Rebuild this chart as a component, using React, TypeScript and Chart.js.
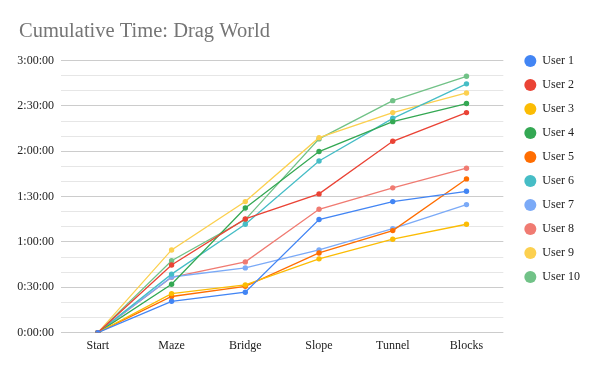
import React, { useEffect, useRef } from 'react';
import { Chart, registerables } from 'chart.js';

Chart.register(...registerables);

// Categories (x axis)
const categories = ['Start', 'Maze', 'Bridge', 'Slope', 'Tunnel', 'Blocks'];

// Series names
const seriesNames = ['User 1', 'User 2', 'User 3', 'User 4', 'User 5', 'User 6', 'User 7', 'User 8', 'User 9', 'User 10'];

// Cumulative time values, in minutes
const user1 = [0, 20.7, 26.7, 74.8, 86.7, 93.5];
const user2 = [0, 44.7, 75.2, 91.8, 126.6, 145.6];
const user3 = [0, 25.8, 31.6, 48.8, 61.8, 71.7];
const user4 = [0, 32.0, 82.5, 119.8, 139.6, 151.6];
const user5 = [0, 23.9, 30.6, 52.7, 67.5, 101.7];
const user6 = [0, 38.7, 71.7, 113.6, 141.8, 164.6];
const user7 = [0, 36.8, 42.8, 54.7, 68.8, 84.7];
const user8 = [0, 36.6, 46.8, 81.6, 95.8, 108.8];
const user9 = [0, 54.7, 86.7, 129.0, 145.6, 158.6];
const user10 = [0, 47.6, 74.8, 128.2, 153.5, 169.6];

const seriesValues = [user1, user2, user3, user4, user5, user6, user7, user8, user9, user10];

const seriesColors = ['#4285f4', '#ea4335', '#fbbc04', '#34a853', '#ff6d01', '#46bdc6', '#7baaf7', '#f07b72', '#fcd04f', '#71c287'];

// Y axis: 0:00:00 .. 3:00:00, grid every 10 min, labels every 30 min
const yMinMinutes = 0;
const yMaxMinutes = 180;
const yGridStepMinutes = 10;
const yLabelStepMinutes = 30;

const chartTitle = 'Cumulative Time: Drag World';

const FONT = "'Liberation Serif', 'Times New Roman', serif";

function formatMinutes(v: number): string {
  const h = Math.floor(v / 60);
  const m = Math.round(v % 60);
  return `${h}:${String(m).padStart(2, '0')}:00`;
}

const boxShift = {
  id: 'boxShift',
  afterLayout(chart: any) {
    const l = chart.legend;
    if (l) {
      l.left += 9;
      l.right += 9;
      l.top += 43;
      l.bottom += 43;
    }
    const t = chart.titleBlock;
    if (t) {
      t.left += 2;
      t.right += 2;
    }
  },
};

export default function App() {
  const canvasRef = useRef<HTMLCanvasElement | null>(null);

  useEffect(() => {
    if (!canvasRef.current) return;
    const chart = new Chart(canvasRef.current, {
      type: 'line',
      data: {
        labels: categories,
        datasets: seriesNames.map((name, i) => ({
          label: name,
          data: seriesValues[i],
          borderColor: seriesColors[i],
          backgroundColor: seriesColors[i],
          pointBackgroundColor: seriesColors[i],
          pointBorderColor: seriesColors[i],
          borderWidth: 1.3,
          pointRadius: 2.7,
          pointBorderWidth: 0,
          tension: 0,
          fill: false,
        })),
      },
      options: {
        responsive: false,
        animation: false,
        devicePixelRatio: 1,
        layout: { padding: { left: 17, right: 19, top: 0, bottom: 12 } },
        plugins: {
          title: {
            display: true,
            text: chartTitle,
            align: 'start',
            color: '#757575',
            font: { family: FONT, size: 20.5, weight: 'normal' },
            padding: { top: 19, bottom: 17 },
          },
          legend: {
            position: 'right',
            align: 'start',
            labels: {
              usePointStyle: true,
              pointStyle: 'circle',
              boxWidth: 12,
              boxHeight: 8.5,
              padding: 12,
              color: '#222222',
              font: { family: FONT, size: 12 },
            },
          },
          tooltip: { enabled: false },
        },
        scales: {
          x: {
            offset: true,
            grid: { display: false, drawTicks: false },
            border: { display: false },
            ticks: {
              color: '#222222',
              font: { family: FONT, size: 12 },
              padding: 6,
              maxRotation: 0,
            },
          },
          y: {
            min: yMinMinutes,
            max: yMaxMinutes,
            border: { display: false },
            afterFit: (scale: any) => {
              scale.width = 44;
            },
            grid: {
              drawTicks: false,
              color: (ctx: any) =>
                ctx.tick && ctx.tick.value % yLabelStepMinutes === 0 ? '#cccccc' : '#e6e6e6',
              lineWidth: 1,
            },
            ticks: {
              stepSize: yGridStepMinutes,
              autoSkip: false,
              maxTicksLimit: 100,
              padding: 7,
              color: '#222222',
              font: { family: FONT, size: 12 },
              callback: (value: any) => {
                const v = Number(value);
                return v % yLabelStepMinutes === 0 ? formatMinutes(v) : '';
              },
            },
          },
        },
      },
      plugins: [boxShift],
    });
    return () => chart.destroy();
  }, []);

  return (
    <div style={{ position: 'absolute', left: 0, top: 0, width: 600, height: 371, background: '#ffffff' }}>
      <canvas ref={canvasRef} width={600} height={371} style={{ width: 600, height: 371, display: 'block' }} />
    </div>
  );
}
